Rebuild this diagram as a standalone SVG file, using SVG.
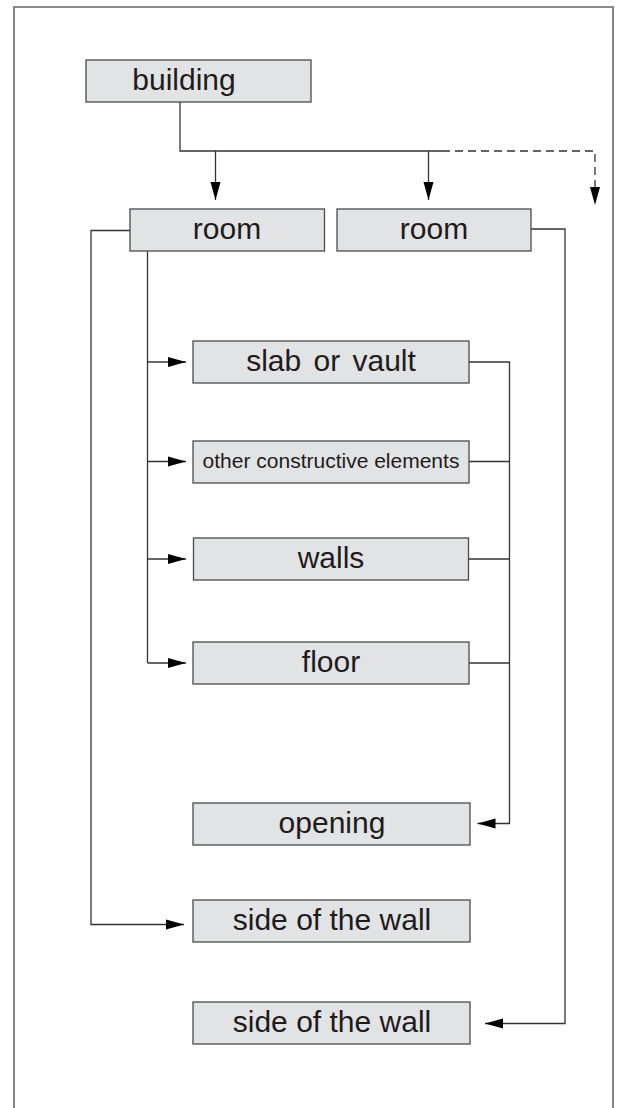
<svg xmlns="http://www.w3.org/2000/svg" width="625" height="1108" viewBox="0 0 625 1108">
<style>
.box{fill:#e2e3e5;stroke:#4a4a4a;stroke-width:1.3}
.lbl{font-family:"Liberation Sans",Arial,Helvetica,sans-serif;font-size:30px;fill:#1f1b1c;text-anchor:middle}
.small{font-size:21px}
.ln{fill:none;stroke:#333;stroke-width:1.3}
.dash{stroke-dasharray:8 5}
</style>
<defs>
<marker id="ah" markerUnits="userSpaceOnUse" viewBox="0 0 18 10" markerWidth="18" markerHeight="10" refX="18" refY="5" orient="auto" overflow="visible">
<path d="M0,0 L18,5 L0,10 Z" fill="#000"/>
</marker>
</defs>
<rect x="0" y="0" width="625" height="1108" fill="#fff"/>
<path d="M14,1110 V7 H613 V1110" fill="none" stroke="#666" stroke-width="1.6"/>

<g id="connectors">
<path class="ln" d="M180,102 V151 H442"/>
<path class="ln" d="M215.5,151 V200" marker-end="url(#ah)"/>
<path class="ln" d="M428.5,151 V200" marker-end="url(#ah)"/>
<path class="ln dash" d="M442,151 H595 V205" marker-end="url(#ah)"/>
<path class="ln" d="M147.5,251 V663"/>
<path class="ln" d="M147.5,362 H186" marker-end="url(#ah)"/>
<path class="ln" d="M147.5,461.5 H186" marker-end="url(#ah)"/>
<path class="ln" d="M147.5,559 H186" marker-end="url(#ah)"/>
<path class="ln" d="M147.5,663 H186" marker-end="url(#ah)"/>
<path class="ln" d="M469,362 H509.5 V823.5 H477.5" marker-end="url(#ah)"/>
<path class="ln" d="M469,461.5 H509.5"/>
<path class="ln" d="M469,559 H509.5"/>
<path class="ln" d="M469,663 H509.5"/>
<path class="ln" d="M130,230.5 H91 V924.5 H184" marker-end="url(#ah)"/>
<path class="ln" d="M531,229 H565 V1023.5 H485" marker-end="url(#ah)"/>
</g>

<g id="building"><rect class="box" x="86" y="60" width="225" height="42"/><text class="lbl" x="184" y="90">building</text></g>
<g id="room1"><rect class="box" x="130" y="209" width="194.5" height="42"/><text class="lbl" x="227" y="239">room</text></g>
<g id="room2"><rect class="box" x="337" y="209" width="194" height="42"/><text class="lbl" x="434" y="239">room</text></g>
<g id="slab"><rect class="box" x="193" y="341" width="276" height="42"/><text class="lbl" x="331" y="371" word-spacing="4">slab or vault</text></g>
<g id="other"><rect class="box" x="193" y="441" width="276" height="42"/><text class="lbl small" x="331" y="468">other constructive elements</text></g>
<g id="walls"><rect class="box" x="193.5" y="538" width="275" height="42"/><text class="lbl" x="331" y="568">walls</text></g>
<g id="floor"><rect class="box" x="193" y="642" width="276" height="42"/><text class="lbl" x="331" y="672">floor</text></g>
<g id="opening"><rect class="box" x="193" y="803" width="277" height="42"/><text class="lbl" x="332" y="833">opening</text></g>
<g id="side1"><rect class="box" x="193" y="900" width="277" height="42"/><text class="lbl" x="332" y="930">side of the wall</text></g>
<g id="side2"><rect class="box" x="193" y="1002" width="277" height="42"/><text class="lbl" x="332" y="1032">side of the wall</text></g>
</svg>
